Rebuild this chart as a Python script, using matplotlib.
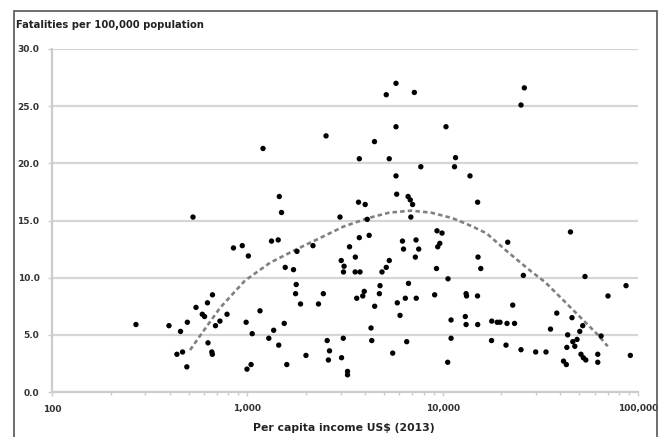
import numpy as np
import matplotlib
matplotlib.use('Agg')
import matplotlib.pyplot as plt
from matplotlib.patches import Rectangle
from matplotlib.ticker import FixedLocator, LogLocator, NullFormatter

# ---- data (income US$ 2013, fatalities per 100,000) ----
income = [
    269, 397, 455, 493, 546, 625, 663, 588, 604, 687, 724, 787, 629, 658, 662, 436, 466, 490,
    527, 849, 942, 1012, 1330, 1439, 1795, 2168, 1563, 1723, 1779, 1766, 1872, 2313, 2449,
    1161, 986, 1059, 1545, 1364, 1288, 1448, 996, 1045, 1592, 1996, 2563, 2634, 2600, 3036,
    3098, 1203, 2529, 1458, 1496, 2980, 3025, 3127, 3106,
    5768, 5143, 7161, 5768, 10400, 4477, 3743, 5326, 11640, 7730, 11500, 5768, 13800, 5816,
    6652, 6826, 7015, 3708, 4012, 15100, 4110, 6871, 3336, 3572, 3565, 3774, 3743, 4204,
    4891, 5143, 5330, 6225, 6303, 7305, 7541, 7246, 9354, 9925, 9667, 9435, 9298, 15170,
    15670, 10650, 4779, 4742, 3631, 3898, 3967, 7322, 6438, 6683, 9100, 5857, 4487, 6050,
    13180, 13250, 15080, 11040, 13060, 13180, 15110, 4297, 4335, 6546, 11040, 5549, 10610,
    3258, 3258,
    26180, 25180, 17830, 19020, 19660, 21350, 23330, 17790, 21100, 25180, 29930, 33810,
    21530, 25880, 22840, 35650, 38390, 45100, 53540, 45920, 43650, 43220, 41560, 42960,
    46370, 47480, 48750, 50340, 52120, 51050, 52480, 54050, 62230, 62230, 64700, 70210,
    86830, 91350,
]
fatalities = [
    5.9, 5.8, 5.3, 6.1, 7.4, 7.8, 8.5, 6.8, 6.6, 5.8, 6.2, 6.8, 4.3, 3.5, 3.3, 3.3, 3.5, 2.2,
    15.3, 12.6, 12.8, 11.9, 13.2, 13.3, 12.3, 12.8, 10.9, 10.7, 9.4, 8.6, 7.7, 7.7, 8.6,
    7.1, 6.1, 5.1, 6.0, 5.4, 4.7, 4.1, 2.0, 2.4, 2.4, 3.2, 4.5, 3.6, 2.8, 3.0,
    4.7, 21.3, 22.4, 17.1, 15.7, 15.3, 11.5, 11.0, 10.5,
    27.0, 26.0, 26.2, 23.2, 23.2, 21.9, 20.4, 20.4, 20.5, 19.7, 19.7, 18.9, 18.9, 17.3,
    17.1, 16.8, 16.4, 16.6, 16.4, 16.6, 15.1, 15.3, 12.7, 11.8, 10.5, 10.5, 13.5, 13.7,
    10.5, 10.9, 11.5, 13.2, 12.5, 13.3, 12.5, 11.8, 14.1, 13.9, 13.0, 12.7, 10.8, 11.8,
    10.8, 9.9, 9.3, 8.6, 8.2, 8.4, 8.8, 8.2, 8.2, 9.5, 8.5, 7.8, 7.5, 6.7,
    8.6, 8.4, 8.4, 6.3, 6.6, 5.9, 5.9, 5.6, 4.5, 4.4, 4.7, 3.4, 2.6,
    1.8, 1.5,
    26.6, 25.1, 6.2, 6.1, 6.1, 6.0, 6.0, 4.5, 4.1, 3.7, 3.5, 3.5,
    13.1, 10.2, 7.6, 5.5, 6.9, 14.0, 10.1, 6.5, 5.0, 3.9, 2.7, 2.4,
    4.4, 4.0, 4.6, 5.3, 5.8, 3.3, 3.0, 2.8, 3.3, 2.6, 4.9, 8.4,
    9.3, 3.2,
]

# dashed trend curve as drawn on the chart
trend_income = [509, 561, 724, 973, 1306, 1754, 2356, 3098, 4131, 5333, 6887, 8717,
                11250, 14290, 16800, 21530, 28310, 33420, 41960, 53090, 62230, 69980]
trend_value = [3.67, 4.70, 7.35, 9.75, 11.30, 12.42, 13.47, 14.46, 15.20, 15.69, 15.86, 15.69,
               15.20, 14.46, 13.87, 12.25, 10.56, 9.62, 7.94, 6.19, 5.01, 4.00]

x_ticks = [100, 1000, 10000, 100000]
x_ticklabels = ['100', '1,000', '10,000', '100,000']
y_ticks = [0, 5, 10, 15, 20, 25, 30]

W, H = 662, 437
fig = plt.figure(figsize=(W / 100, H / 100), dpi=100)
ax = fig.add_axes([52 / W, 1 - 392 / H, (638 - 52) / W, (392 - 49) / H])

# frame around the whole chart
fig.patches.append(Rectangle((14 / W, -0.02), (657 - 14) / W, 1 - 11 / H + 0.02,
                             transform=fig.transFigure, fill=False,
                             edgecolor='#555555', lw=1.2))

ax.plot(trend_income, trend_value, color='#808080', lw=1.9,
        linestyle=(0, (1.7, 1.2)), zorder=2)
ax.scatter(income, fatalities, s=15, color='black', edgecolors='none', zorder=3)

ax.set_xscale('log')
ax.set_xlim(100, 100000)
ax.set_ylim(0, 30)

ax.xaxis.set_major_locator(FixedLocator(x_ticks))
ax.set_xticklabels(x_ticklabels)
ax.xaxis.set_minor_locator(LogLocator(base=10, subs=np.arange(2, 10)))
ax.xaxis.set_minor_formatter(NullFormatter())
ax.set_yticks(y_ticks)
ax.set_yticklabels([f'{v:.1f}' for v in y_ticks])

ax.grid(axis='y', color='#d6d6d6', lw=1.6, zorder=0)
ax.set_axisbelow(True)
for s in ['top', 'right']:
    ax.spines[s].set_visible(False)
for s in ['left', 'bottom']:
    ax.spines[s].set_color('#cccccc')
    ax.spines[s].set_linewidth(1.6)

ax.tick_params(axis='both', which='major', length=3, color='#cccccc', width=1,
               labelsize=6.5, labelcolor='#333333')
ax.tick_params(axis='x', which='major', pad=6)
ax.tick_params(axis='y', which='major', pad=6)
ax.tick_params(axis='x', which='minor', length=2.5, color='#cccccc', width=1)
for lab in ax.get_xticklabels() + ax.get_yticklabels():
    lab.set_fontweight('bold')

fig.text(16 / W, 1 - 25 / H, 'Fatalities per 100,000 population', ha='left', va='center',
         fontsize=7.2, fontweight='bold', color='#222222')
fig.text(344 / W, 1 - 428 / H, 'Per capita income US$ (2013)', ha='center', va='center',
         fontsize=7.8, fontweight='bold', color='#222222')

fig.savefig('out.png', dpi=100)
